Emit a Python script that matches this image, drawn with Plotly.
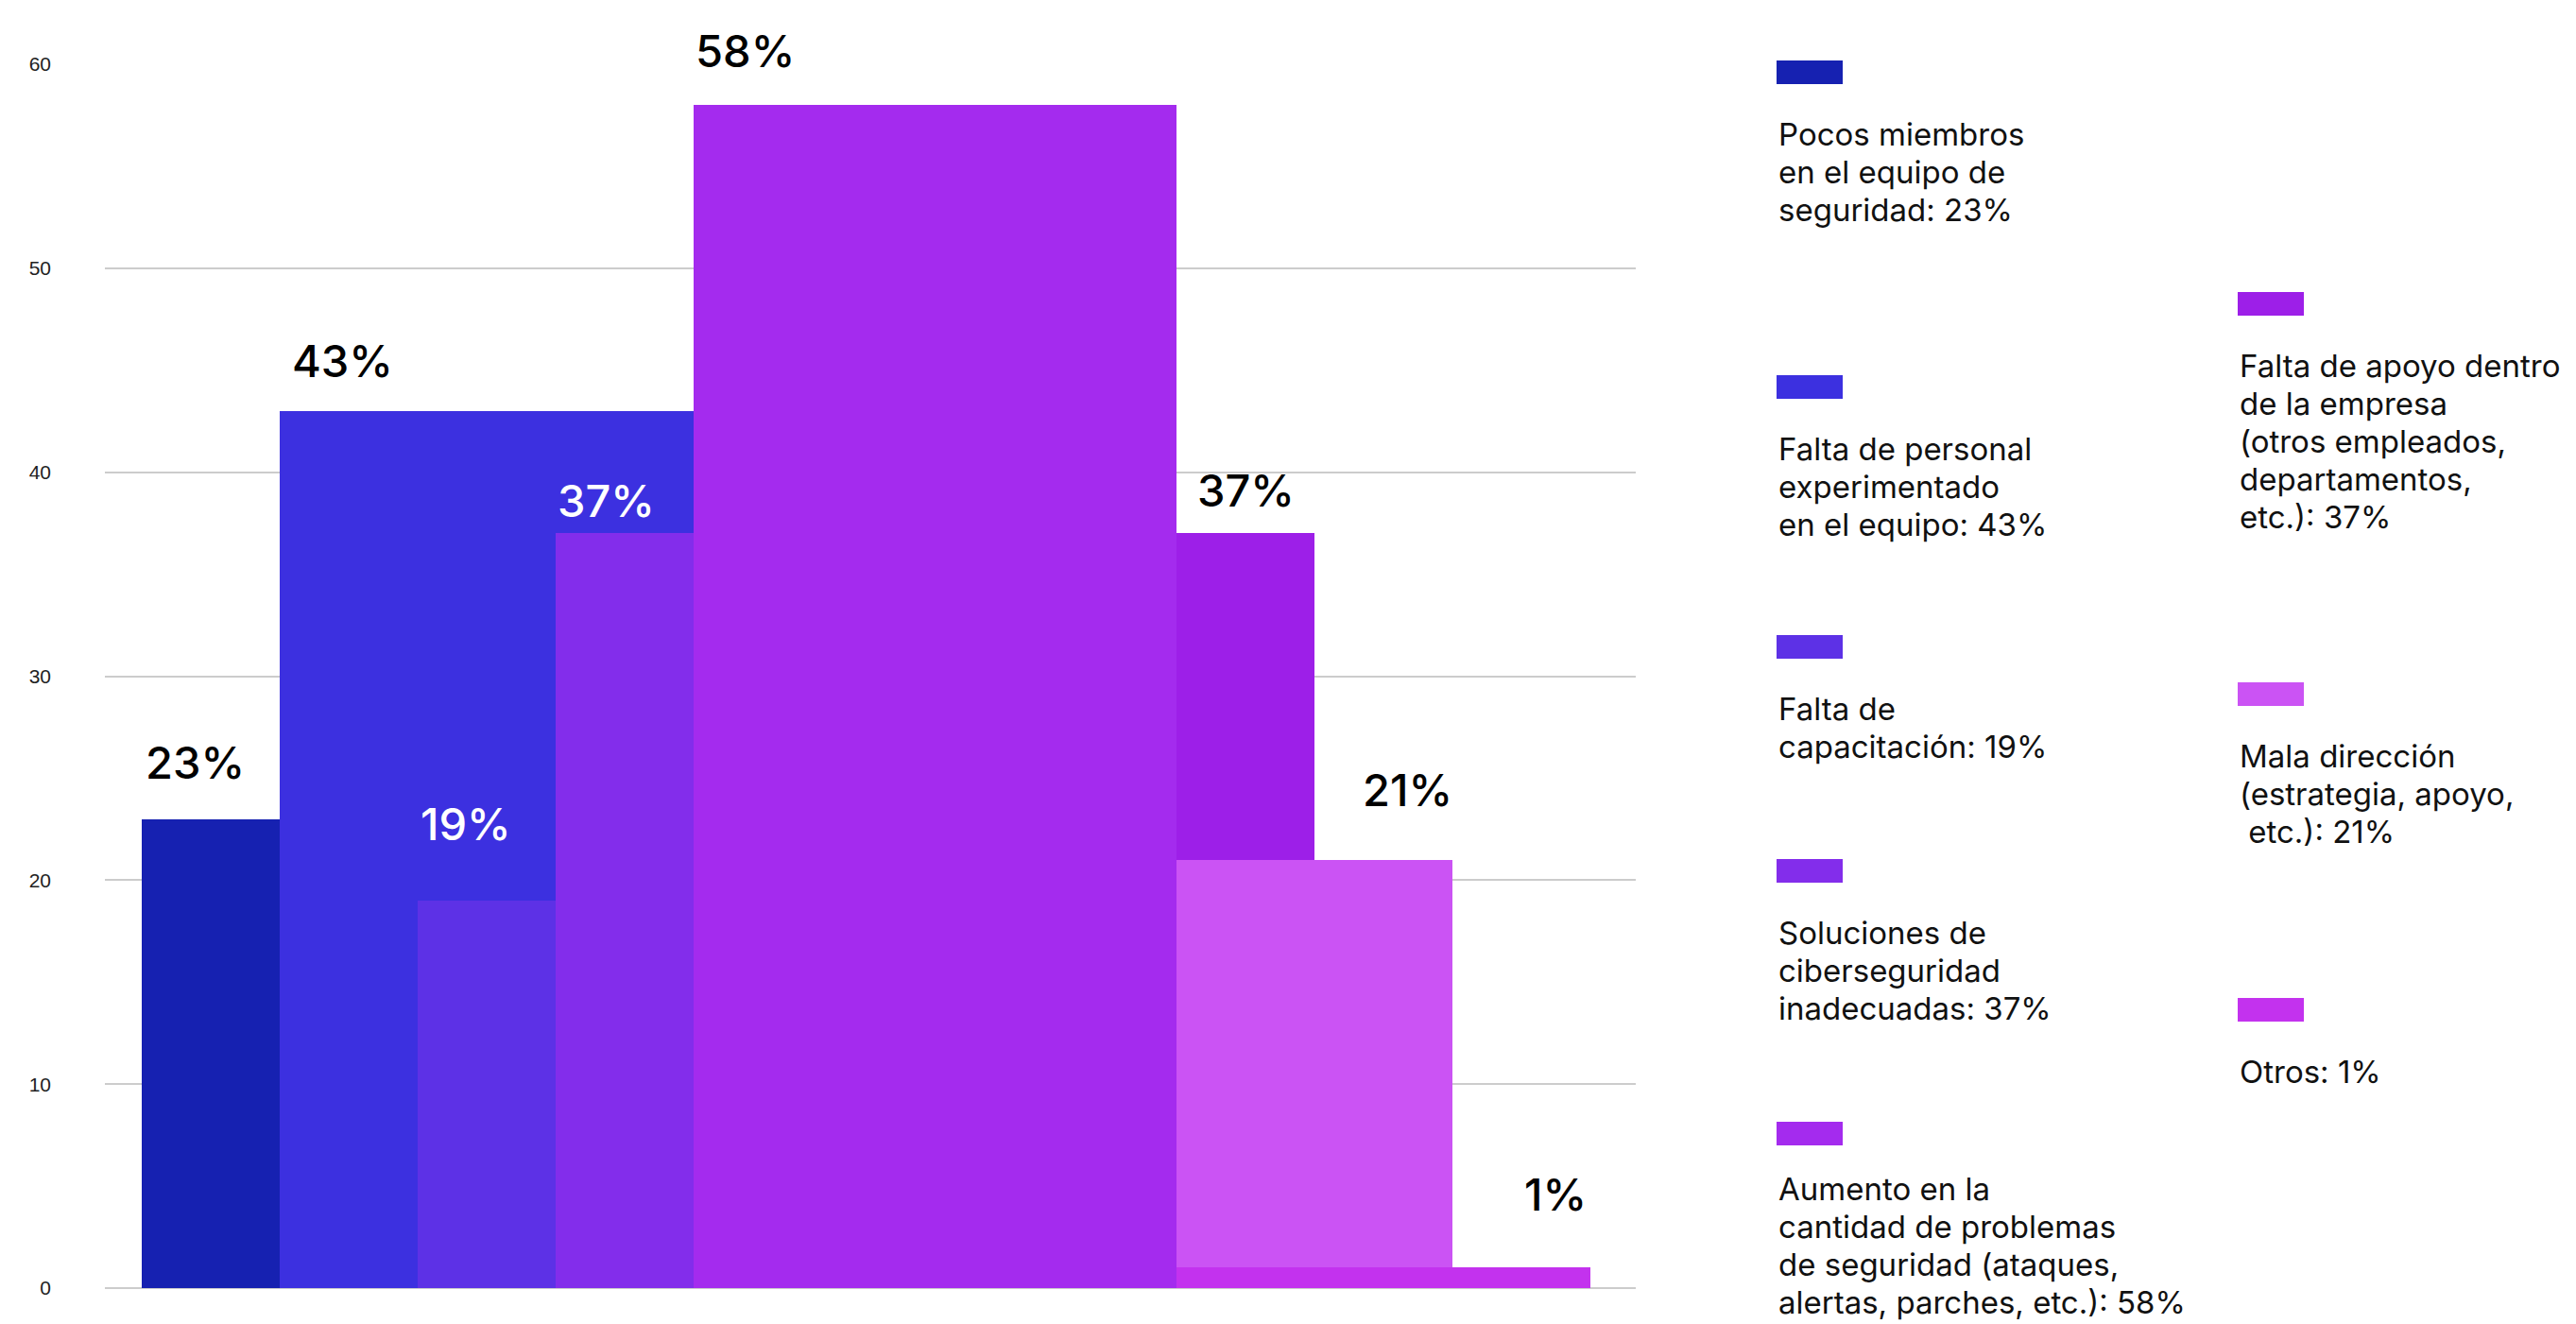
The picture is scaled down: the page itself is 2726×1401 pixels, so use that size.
import plotly.graph_objects as go

# Survey answers: main obstacles for the security team
categories = [
    "Pocos miembros en el equipo de seguridad",
    "Falta de personal experimentado en el equipo",
    "Falta de capacitación",
    "Soluciones de ciberseguridad inadecuadas",
    "Aumento en la cantidad de problemas de seguridad (ataques, alertas, parches, etc.)",
    "Falta de apoyo dentro de la empresa (otros empleados, departamentos, etc.)",
    "Mala dirección (estrategia, apoyo, etc.)",
    "Otros",
]
values = [23, 43, 19, 37, 58, 37, 21, 1]

# Legend wording, broken into lines
legend_lines = [
    ["Pocos miembros", "en el equipo de", "seguridad: 23%"],
    ["Falta de personal", "experimentado", "en el equipo: 43%"],
    ["Falta de", "capacitación: 19%"],
    ["Soluciones de", "ciberseguridad", "inadecuadas: 37%"],
    ["Aumento en la", "cantidad de problemas", "de seguridad (ataques,", "alertas, parches, etc.): 58%"],
    ["Falta de apoyo dentro", "de la empresa", "(otros empleados,", "departamentos,", "etc.): 37%"],
    ["Mala dirección", "(estrategia, apoyo,", " etc.): 21%"],
    ["Otros: 1%"],
]

y_ticks = [0, 10, 20, 30, 40, 50, 60]

# ---- styling / placement ----
colors = ["#1621B1", "#3C30E0", "#5D31E6", "#832DEB", "#A42BEE", "#9D1FE8", "#CB53F4", "#C332EE"]
bar_left = [0.27, 1.27, 2.27, 3.27, 4.27, 7.77, 7.77, 7.77]
bar_width = [1, 3, 1, 1, 3.5, 1, 2, 3]
draw_order = [1, 0, 2, 3, 4, 5, 6, 7]
label_color = ["#000", "#000", "#fff", "#fff", "#000", "#000", "#000", "#000"]
label_xshift = [2, 11, 1, 0, 0, 20, 195, 366]
label_yshift = [60, 53.5, 81.5, 34.5, 57.5, 45.5, 74.5, 77.5]

W, H = 2726, 1401
ML, MR, MT, MB = 111, 995, 68, 38
PW, PH = W - ML - MR, H - MT - MB

legend_x = [1880, 1880, 1880, 1880, 1880, 2368, 2368, 2368]
legend_top = [64, 397, 672, 909, 1187, 309, 722, 1056]
legend_text_dy = [0, 0, 0, 0, -7, 0, 0, 0]
SW_W, SW_H = 70, 25
TEXT_GAP = 78      # swatch top -> first text line centre
LINE_STEP = 40     # distance between legend text lines

FONT = "Inter"


def paper_x(px):
    return (px - ML) / PW


def paper_y(py):
    return 1 - (py - MT) / PH


fig = go.Figure()

fig.add_trace(go.Bar(
    x=[bar_left[i] + bar_width[i] / 2 for i in draw_order],
    y=[values[i] for i in draw_order],
    width=[bar_width[i] for i in draw_order],
    marker=dict(color=[colors[i] for i in draw_order], line=dict(width=0)),
    hovertext=[categories[i] for i in draw_order],
    hoverinfo="text+y",
    showlegend=False,
))

annotations = []
for i, v in enumerate(values):
    annotations.append(dict(
        x=bar_left[i], y=v, xref="x", yref="y",
        text=f"{v}%", showarrow=False,
        xanchor="left", yanchor="middle",
        xshift=label_xshift[i], yshift=label_yshift[i],
        font=dict(family=FONT, size=47, color=label_color[i], weight=500),
    ))

shapes = []
for i in range(len(values)):
    x0 = legend_x[i]
    y0 = legend_top[i]
    shapes.append(dict(
        type="rect", xref="paper", yref="paper",
        x0=paper_x(x0), x1=paper_x(x0 + SW_W),
        y0=paper_y(y0 + SW_H), y1=paper_y(y0),
        fillcolor=colors[i], line=dict(width=0), layer="above",
    ))
    for k, line in enumerate(legend_lines[i]):
        annotations.append(dict(
            x=paper_x(x0), y=paper_y(y0 + TEXT_GAP + LINE_STEP * k + legend_text_dy[i]),
            xref="paper", yref="paper",
            text=line, showarrow=False,
            xanchor="left", yanchor="middle", align="left",
            font=dict(family=FONT, size=33, color="#111"),
        ))

fig.update_layout(
    width=W, height=H,
    margin=dict(l=ML, r=MR, t=MT, b=MB, autoexpand=False),
    paper_bgcolor="white", plot_bgcolor="white",
    barmode="overlay",
    bargap=0,
    showlegend=False,
    annotations=annotations,
    shapes=shapes,
    xaxis=dict(range=[0, 11.1], showticklabels=False, showgrid=False,
               zeroline=False, showline=False, fixedrange=True),
    yaxis=dict(range=[0, 60], tickvals=y_ticks, ticktext=[str(t) for t in y_ticks],
               showgrid=True, gridcolor="#cccccc", gridwidth=1.5,
               zeroline=True, zerolinecolor="#cccccc", zerolinewidth=2,
               showline=False, ticks="", ticklabelstandoff=56,
               tickfont=dict(family="Liberation Sans", size=21, color="#222"),
               fixedrange=True),
)

fig.write_html("out.html")
